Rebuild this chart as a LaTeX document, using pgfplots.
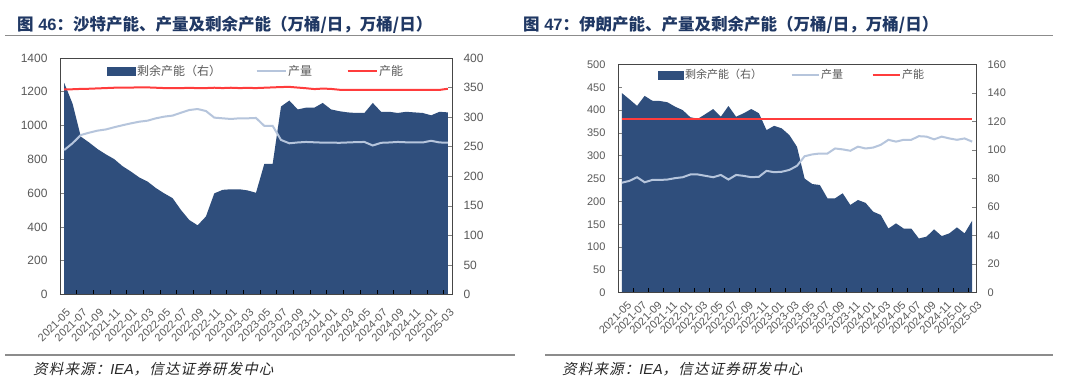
\documentclass[border=0pt]{standalone}
\usepackage{pgfplots}
\usepackage{pgfplotstable}
\pgfplotsset{compat=1.18}
\usepackage{fontspec}
\setmainfont{Liberation Sans}
\newfontfamily\cjk{Noto Sans CJK SC}
\newfontfamily\cjkit{Noto Sans CJK SC}[FakeSlant=0.22, LetterSpace=8]
\definecolor{areablue}{RGB}{47,78,124}
\definecolor{prodline}{RGB}{182,197,220}
\definecolor{capred}{RGB}{255,60,60}
\definecolor{titleblue}{RGB}{32,56,100}
\definecolor{ticktext}{RGB}{89,89,89}
\definecolor{framec}{RGB}{70,70,70}
\definecolor{rulegray}{RGB}{140,140,140}

\pgfplotstableread{
i spare prod cap
0 358 855 1215
1 323 895 1215
2 267 944 1217
3 257 958 1218
4 246 970 1220
5 237 977 1222
6 229 990 1224
7 217 1002 1225
8 208 1013 1225
9 198 1023 1226
10 191 1029 1226
11 180 1043 1224
12 171 1053 1222
13 163 1059 1222
14 143 1076 1222
15 126 1092 1223
16 117 1098 1222
17 132 1086 1222
18 171 1047 1224
19 177 1043 1222
20 178 1039 1224
21 178 1043 1222
22 176 1043 1223
23 172 1045 1222
24 221 998 1224
25 221 998 1226
26 318 915 1228
27 328 895 1229
28 313 900 1225
29 316 903 1221
30 316 901 1216
31 324 899 1219
32 313 899 1217
33 310 898 1212
34 308 900 1211
35 307 902 1211
36 307 903 1211
37 324 882 1211
38 309 898 1211
39 309 900 1211
40 307 903 1211
41 309 901 1211
42 308 901 1211
43 307 900 1211
44 303 910 1211
45 309 900 1211
46 308 899 1218
}\saudi

\pgfplotstableread{
i spare prod cap
0 140 241 380
1 135.6 245 380
2 131 253 380
3 138 242 380
4 134.6 247 380
5 134.4 247 380
6 133.5 248 380
7 130.4 251 380
8 128 253 380
9 123 259 380
10 122 259 380
11 125.3 256 380
12 128.8 253 380
13 123.4 258 380
14 130.9 248 380
15 123.4 258 380
16 125.8 256 380
17 128.8 253 380
18 125.8 254 380
19 114 267 380
20 117 264 380
21 115.2 265 380
22 110.5 269 380
23 102.3 278 380
24 80 299 380
25 76.2 303 380
26 75.5 305 380
27 66.2 305 380
28 66.2 316 380
29 69.7 314 380
30 61.5 311 380
31 65 320 380
32 63 316 380
33 56.8 318 380
34 54.5 324 380
35 45 335 380
36 48.6 331 380
37 45 335 380
38 45 335 380
39 38 343 380
40 39.3 342 380
41 44.4 336 380
42 39.7 342 380
43 41.6 338 380
44 45.8 335 380
45 41.6 338 380
46 50.5 331 380
}\iran

\pgfplotsset{
  common/.style={
    scale only axis, anchor=south west,
    xmin=-0.5, xmax=46.5, ymin=0,
    tick align=inside,
    axis line style={draw=framec, line width=0.9pt},
    /pgf/number format/assume math mode=true,
    /pgf/number format/1000 sep={},
  },
  rightax/.style={
    common, hide x axis, axis y line*=right,
    ytick style={draw=gray, line width=0.6pt}, major tick length=4pt,
    yticklabel style={text=ticktext, anchor=west, xshift=8pt},
  },
  leftax/.style={
    common,
    ytick pos=left,
    ytick style={draw=gray, line width=0.6pt}, major tick length=4pt,
    yticklabel style={text=ticktext, anchor=east, xshift=-9pt},
    xtick={0,2,...,46},
    xticklabels={2021-05,2021-07,2021-09,2021-11,2022-01,2022-03,2022-05,2022-07,2022-09,2022-11,2023-01,2023-03,2023-05,2023-07,2023-09,2023-11,2024-01,2024-03,2024-05,2024-07,2024-09,2024-11,2025-01,2025-03},
    major x tick style={draw=none},
    minor xtick={1.5,3.5,...,45.5},
    minor x tick style={draw=black, line width=0.8pt},
    minor tick length=5pt,
    xtick pos=bottom,
    legend columns=3,
    legend image code/.code={\draw[#1] (0pt,0pt) -- (29pt,0pt);},
  },
}

\begin{document}
\begin{tikzpicture}
\fill[white] (0pt,0pt) rectangle (1080pt,389pt);
\path[use as bounding box] (0pt,0pt) rectangle (1080pt,389pt);

% titles
\node[anchor=base west, inner sep=0pt, text=titleblue, font=\fontsize{16.5}{18}\selectfont] at (17pt,358.5pt) {{\cjk\bfseries 图} {\bfseries 46}{\cjk\bfseries ：沙特产能、产量及剩余产能（万桶/日，万桶/日）}};
\node[anchor=base west, inner sep=0pt, text=titleblue, font=\fontsize{16.5}{18}\selectfont] at (523pt,358.5pt) {{\cjk\bfseries 图} {\bfseries 47}{\cjk\bfseries ：伊朗产能、产量及剩余产能（万桶/日，万桶/日）}};
\draw[rulegray, line width=1.6pt] (5pt,353.5pt) -- (1053pt,353.5pt);
\draw[rulegray, line width=1.3pt] (5pt,34pt) -- (515pt,34pt);
\draw[rulegray, line width=1.3pt] (545pt,34pt) -- (1053pt,34pt);
% sources
\node[anchor=base west, inner sep=0pt, text=black!85, font=\fontsize{14.5}{16}\selectfont] at (33pt,15pt) {{\cjkit 资料来源：}{\itshape IEA}{\cjkit ，信达证券研发中心}};
\node[anchor=base west, inner sep=0pt, text=black!85, font=\fontsize{14.5}{16}\selectfont] at (562pt,15pt) {{\cjkit 资料来源：}{\itshape IEA}{\cjkit ，信达证券研发中心}};

% ---------- Saudi ----------
\begin{axis}[rightax, at={(60pt,94.5pt)}, width=392pt, height=236.5pt,
  ymax=400, ytick={0,50,...,400},
  yticklabel style={font=\fontsize{12}{14}\selectfont}]
\addplot[fill=areablue, draw=none] table[x=i,y=spare]{\saudi} \closedcycle;
\end{axis}
\begin{axis}[leftax, at={(60pt,94.5pt)}, width=392pt, height=236.5pt,
  ymax=1400, ytick={0,200,...,1400},
  yticklabel style={font=\fontsize{12}{14}\selectfont},
  xticklabel style={font=\fontsize{11}{13}\selectfont, text=ticktext, inner sep=1pt, xshift=5pt, yshift=-15.5pt, rotate=45, anchor=east},
  legend style={at={(axis description cs:0.12,0.945)}, anchor=west, draw=none, fill=none,
    inner sep=0pt, font=\fontsize{12}{14}\selectfont, text=ticktext,
    nodes={inner sep=1.5pt},
    /tikz/every even column/.append style={column sep=33pt}},
  ]
\addlegendimage{legend image code/.code={\fill[areablue] (0pt,-4pt) rectangle (28pt,4pt);}}
\addlegendentry{\cjk 剩余产能（右）}
\addplot[prodline, line width=2pt] table[x=i,y=prod]{\saudi};
\addlegendentry{\cjk 产量}
\addplot[capred, line width=2pt] table[x=i,y=cap]{\saudi};
\addlegendentry{\cjk 产能}
\end{axis}

% ---------- Iran ----------
\begin{axis}[rightax, at={(618pt,96.3pt)}, width=358pt, height=228.2pt,
  ymax=160, ytick={0,20,...,160},
  yticklabel style={font=\fontsize{11}{13}\selectfont}]
\addplot[fill=areablue, draw=none] table[x=i,y=spare]{\iran} \closedcycle;
\end{axis}
\begin{axis}[leftax, at={(618pt,96.3pt)}, width=358pt, height=228.2pt,
  ymax=500, ytick={0,50,...,500},
  yticklabel style={font=\fontsize{11}{13}\selectfont},
  xticklabel style={font=\fontsize{11}{13}\selectfont, text=ticktext, inner sep=1pt, xshift=8.5pt, yshift=-10pt, rotate=45, anchor=east},
  legend style={at={(axis description cs:0.112,0.954)}, anchor=west, draw=none, fill=none,
    inner sep=0pt, font=\fontsize{11}{13}\selectfont, text=ticktext,
    nodes={inner sep=1.5pt},
    /tikz/every even column/.append style={column sep=27pt}},
  legend image code/.code={\draw[#1] (0pt,0pt) -- (27pt,0pt);},
  ]
\addlegendimage{legend image code/.code={\fill[areablue] (0pt,-4pt) rectangle (25pt,4pt);}}
\addlegendentry{\cjk 剩余产能（右）}
\addplot[prodline, line width=2pt] table[x=i,y=prod]{\iran};
\addlegendentry{\cjk 产量}
\addplot[capred, line width=2pt] table[x=i,y=cap]{\iran};
\addlegendentry{\cjk 产能}
\end{axis}
\end{tikzpicture}
\end{document}
